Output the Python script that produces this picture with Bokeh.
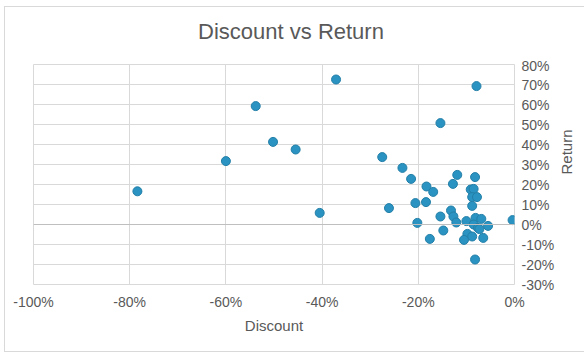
import math
from bokeh.plotting import figure
from bokeh.layouts import column
from bokeh.models import FixedTicker, PrintfTickFormatter, Range1d, Span, ColumnDataSource, Div
from bokeh.embed import file_html
from bokeh.resources import INLINE

# Discount (%) and Return (%)
discount = [-78.4, -60.0, -53.8, -50.2, -45.5, -40.5, -37.1, -7.9, -15.4,
            -27.5, -23.3, -21.5, -11.9, -8.2, -18.3, -16.9, -12.8, -9.1, -8.5,
            -8.8, -7.8, -26.1, -20.6, -18.4, -8.8, -13.2, -15.4, -12.7, -12.1,
            -10.0, -20.2, -8.1, -6.9, -8.5, -7.6, -7.3, -5.5, -0.4, -14.8,
            -17.6, -9.8, -8.8, -10.5, -6.5, -8.2]
returns = [16.6, 31.7, 59.2, 41.3, 37.5, 5.8, 72.5, 69.2, 50.7,
           33.7, 28.3, 22.8, 24.8, 23.7, 19.0, 16.3, 20.3, 17.5, 17.8,
           13.7, 13.7, 8.2, 10.7, 11.2, 9.3, 7.0, 4.0, 4.0, 1.0,
           1.7, 0.8, 3.3, 2.8, 0.0, -1.7, -2.3, -0.7, 2.2, -3.0,
           -7.2, -4.7, -6.0, -7.7, -6.7, -17.5]

x_ticks = [-100, -80, -60, -40, -20, 0]
y_ticks = [-30, -20, -10, 0, 10, 20, 30, 40, 50, 60, 70, 80]

title_text = "Discount vs Return"
x_title = "Discount"
y_title = "Return"

FONT = "Liberation Sans"
TXT = "#595959"
GRID = "#d9d9d9"

title_div = Div(text=title_text, width=572, height=50, margin=0,
                styles={"text-align": "center", "font-family": FONT,
                        "font-size": "22px", "line-height": "50px",
                        "color": TXT, "width": "572px"})

p = figure(width=572, height=294, output_backend="svg", toolbar_location=None,
           title_location=None,
           x_range=Range1d(-100, 0), y_range=Range1d(-30, 80),
           y_axis_location="right",
           frame_width=481, frame_height=220,
           min_border_left=28, min_border_right=63, min_border_top=7,
           min_border_bottom=67, margin=0)

p.background_fill_color = "white"
p.border_fill_color = "white"
p.outline_line_color = GRID

for ax in (p.xaxis[0], p.yaxis[0]):
    ax.axis_line_color = None
    ax.major_tick_line_color = None
    ax.minor_tick_line_color = None
    ax.major_label_text_font = FONT
    ax.major_label_text_font_size = "14px"
    ax.major_label_text_color = TXT
    ax.axis_label_text_font = FONT
    ax.axis_label_text_font_size = "15px"
    ax.axis_label_text_font_style = "normal"
    ax.axis_label_text_color = TXT
    ax.formatter = PrintfTickFormatter(format="%d%%")

p.xaxis[0].ticker = FixedTicker(ticks=x_ticks)
p.yaxis[0].ticker = FixedTicker(ticks=y_ticks)
p.xaxis[0].axis_label = x_title
p.yaxis[0].axis_label = y_title
p.yaxis[0].axis_label_orientation = math.pi / 2
p.xaxis[0].major_label_standoff = 3
p.xaxis[0].axis_label_standoff = 4
p.yaxis[0].major_label_standoff = 1
p.yaxis[0].axis_label_standoff = 9

p.xgrid.ticker = FixedTicker(ticks=x_ticks)
p.ygrid.ticker = FixedTicker(ticks=y_ticks)
p.xgrid.grid_line_color = GRID
p.ygrid.grid_line_color = GRID

p.add_layout(Span(location=0, dimension="width", line_color="#bfbfbf", line_width=1))

src = ColumnDataSource(dict(x=discount, y=returns))
p.scatter("x", "y", source=src, size=9, fill_color="#2a93c1", line_color="#237fa8",
          line_width=1)

layout = column(title_div, p, margin=(6, 0, 0, 4), spacing=0,
                styles={"border": "1px solid #d9d9d9"})

open("out.html", "w").write(file_html(layout, INLINE))
